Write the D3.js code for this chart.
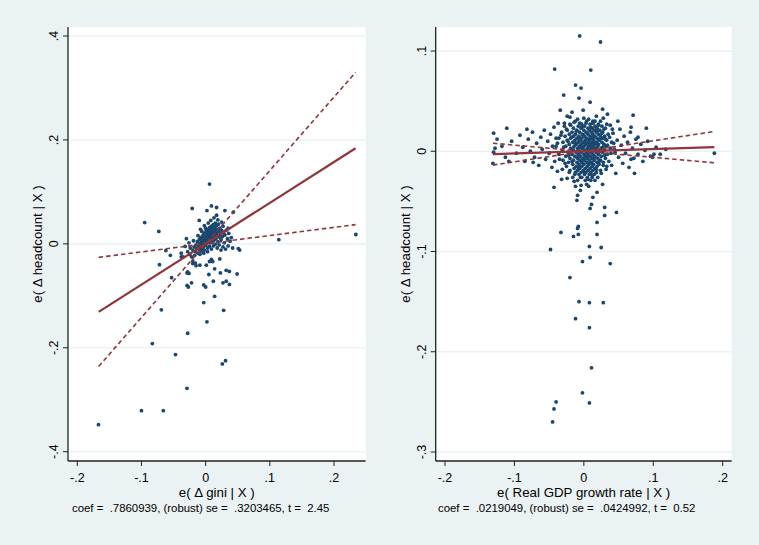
<!DOCTYPE html>
<html>
<head>
<meta charset="utf-8">
<script src="https://cdnjs.cloudflare.com/ajax/libs/d3/7.8.5/d3.min.js"></script>
<style>
  body { margin: 0; background: #eaf2f3; }
  text { font-family: "Liberation Sans", Arial, sans-serif; fill: #000; }
</style>
</head>
<body>
<div id="main"></div>
<script>
// ---- data ----
var tickLabelsX = ["-.2", "-.1", "0", ".1", ".2"];
var ticksX = [-0.2, -0.1, 0, 0.1, 0.2];

var giniTicksY = [-0.4, -0.2, 0, 0.2, 0.4];
var giniLabelsY = ["-.4", "-.2", "0", ".2", ".4"];
var gdpTicksY = [-0.3, -0.2, -0.1, 0, 0.1];
var gdpLabelsY = ["-.3", "-.2", "-.1", "0", ".1"];

// partial residuals, left panel (gini)
var giniPoints = [
  [0.006,0.115],[-0.021,0.068],[0.009,0.073],[0.017,0.070],[0.002,0.064],[0.030,0.064],[-0.095,0.041],[-0.073,0.024],
  [-0.010,0.045],[0.114,0.008],[0.234,0.018],[0.043,0.061],[0.017,0.055],[0.035,0.030],[0.051,-0.009],[0.053,-0.012],
  [-0.062,-0.013],[-0.055,-0.022],[-0.072,-0.040],[-0.053,-0.065],[-0.038,-0.018],[-0.029,-0.056],[-0.026,-0.057],
  [-0.022,-0.075],[-0.029,-0.080],[-0.027,-0.083],[-0.003,-0.079],[0.000,-0.083],[0.005,-0.059],[0.012,-0.072],
  [0.023,-0.056],[0.037,-0.053],[0.049,-0.058],[0.027,-0.075],[0.032,-0.072],[0.037,-0.078],[0.014,-0.101],
  [-0.003,-0.113],[-0.069,-0.127],[0.028,-0.128],[0.002,-0.150],[-0.028,-0.172],[-0.083,-0.192],[-0.047,-0.213],
  [0.031,-0.225],[0.026,-0.231],[-0.029,-0.278],[-0.100,-0.321],[-0.066,-0.321],[-0.167,-0.348],
  [-0.020,-0.038],[-0.016,-0.037],[-0.009,-0.041],[0.001,-0.041],[0.006,-0.034],[0.011,-0.034],[0.009,-0.030],
  [0.014,-0.048],[0.022,-0.029],[0.032,-0.051],[-0.020,-0.033],[-0.015,-0.042],[-0.038,-0.025],[-0.028,-0.054],
  // dense core
  [-0.020,-0.012],[-0.018,-0.006],[-0.016,-0.015],[-0.015,-0.002],[-0.014,-0.009],[-0.013,0.004],[-0.012,-0.018],
  [-0.011,-0.004],[-0.010,0.008],[-0.010,-0.011],[-0.009,0.001],[-0.008,-0.007],[-0.008,0.012],[-0.007,-0.014],
  [-0.006,0.005],[-0.006,-0.002],[-0.005,0.015],[-0.005,-0.009],[-0.004,0.009],[-0.004,0.002],[-0.003,-0.005],
  [-0.003,0.018],[-0.002,0.011],[-0.002,-0.012],[-0.001,0.004],[-0.001,0.021],[0.000,0.007],[0.000,-0.003],
  [0.001,0.014],[0.001,0.025],[0.002,0.001],[0.002,0.010],[0.003,0.019],[0.003,-0.008],[0.004,0.028],[0.004,0.005],
  [0.005,0.015],[0.005,0.022],[0.006,0.011],[0.006,0.031],[0.007,0.002],[0.007,0.018],[0.008,0.026],[0.008,0.008],
  [0.009,0.034],[0.009,0.014],[0.010,0.021],[0.010,0.003],[0.011,0.029],[0.011,0.012],[0.012,0.037],[0.012,0.019],
  [0.013,0.024],[0.013,0.007],[0.014,0.032],[0.014,0.015],[0.015,0.040],[0.015,0.027],[0.016,0.010],[0.016,0.021],
  [0.017,0.035],[0.018,0.017],[0.018,0.028],[0.019,0.004],[0.020,0.024],[0.020,0.038],[0.021,0.013],[0.022,0.030],
  [0.023,0.019],[0.024,0.008],[0.025,0.026],[0.026,0.014],[0.027,0.034],[0.028,0.021],[0.029,0.002],[0.030,0.017],
  [0.032,0.026],[0.034,0.010],[0.036,0.020],[0.038,0.005],[-0.025,-0.020],[-0.022,-0.025],[-0.024,-0.008],
  [-0.028,-0.015],[-0.019,0.006],[-0.017,-0.022],[-0.012,0.016],[-0.009,-0.020],[-0.006,0.024],[-0.003,-0.018],
  [0.000,0.030],[0.003,-0.015],[0.006,-0.005],[0.009,-0.010],[0.012,-0.004],[0.015,-0.001],[0.018,-0.008],
  [0.021,-0.002],[0.024,-0.012],[0.027,-0.006],[0.031,-0.010],[0.035,-0.004],[0.040,0.012],[0.042,-0.008],
  [-0.032,-0.005],[-0.035,-0.025],[-0.030,0.010],[-0.026,0.002],[0.004,0.040],[-0.002,0.035],[0.008,0.045],
  [0.019,0.046],[0.025,0.042],[-0.008,0.028],[0.013,0.050]
];

// partial residuals, right panel (GDP growth)
var gdpPoints = [
  [-0.006,0.115],[0.024,0.109],[-0.042,0.082],[0.010,0.081],[-0.012,0.066],[-0.004,0.063],[-0.029,0.056],
  [-0.007,0.053],[0.009,0.049],[-0.034,0.041],[-0.001,0.041],[0.027,0.042],[0.034,0.037],[0.071,0.036],
  [-0.024,0.035],[-0.017,0.039],[0.049,0.030],[0.090,0.023],[-0.111,0.023],[-0.130,0.018],[-0.082,0.022],
  [0.068,0.024],[0.078,0.014],[-0.128,0.003],[-0.130,-0.001],[-0.131,-0.012],[-0.108,-0.010],[-0.073,-0.011],
  [0.188,-0.002],[0.101,-0.003],[0.099,-0.006],[0.068,-0.008],[0.073,-0.022],[-0.032,-0.028],[-0.043,-0.036],
  [-0.012,-0.035],[-0.004,-0.034],[0.007,-0.035],[0.027,-0.033],[-0.005,-0.039],[-0.009,-0.044],[0.019,-0.041],
  [0.013,-0.046],[-0.010,-0.049],[0.011,-0.053],[0.009,-0.057],[0.030,-0.056],[0.047,-0.061],[0.030,-0.064],
  [0.019,-0.071],[-0.008,-0.075],[-0.009,-0.077],[-0.033,-0.081],[-0.008,-0.083],[-0.015,-0.085],[0.019,-0.083],
  [-0.048,-0.098],[0.008,-0.095],[0.025,-0.096],[0.009,-0.106],[-0.002,-0.110],[0.038,-0.112],[-0.020,-0.126],
  [-0.007,-0.150],[0.008,-0.151],[0.028,-0.151],[-0.012,-0.167],[0.008,-0.176],[0.011,-0.216],[-0.002,-0.241],
  [0.008,-0.251],[-0.040,-0.250],[-0.043,-0.257],[-0.045,-0.270],
  // dense core
  [-0.012,0.030],[0.004,0.030],[0.013,0.030],
  [-0.020,0.027],[-0.003,0.027],[0.009,0.027],[0.021,0.027],
  [-0.028,0.025],[-0.008,0.025],[0.001,0.025],[0.016,0.025],[0.026,0.025],
  [-0.015,0.023],[-0.004,0.023],[0.006,0.023],[0.012,0.023],[0.019,0.023],[0.031,0.023],
  [-0.024,0.021],[-0.010,0.021],[0.000,0.021],[0.008,0.021],[0.015,0.021],[0.023,0.021],
  [-0.032,0.019],[-0.017,0.019],[-0.006,0.019],[0.003,0.019],[0.011,0.019],[0.018,0.019],[0.027,0.019],
  [-0.021,0.017],[-0.012,0.017],[-0.002,0.017],[0.006,0.017],[0.013,0.017],[0.021,0.017],[0.035,0.017],
  [-0.027,0.015],[-0.015,0.015],[-0.007,0.015],[0.001,0.015],[0.009,0.015],[0.016,0.015],[0.024,0.015],[0.030,0.015],
  [-0.036,0.013],[-0.019,0.013],[-0.010,0.013],[-0.003,0.013],[0.004,0.013],[0.011,0.013],[0.019,0.013],[0.027,0.013],
  [-0.024,0.011],[-0.013,0.011],[-0.005,0.011],[0.002,0.011],[0.008,0.011],[0.014,0.011],[0.022,0.011],[0.033,0.011],
  [-0.030,0.009],[-0.016,0.009],[-0.008,0.009],[-0.001,0.009],[0.006,0.009],[0.012,0.009],[0.018,0.009],[0.026,0.009],[0.040,0.009],
  [-0.021,0.007],[-0.011,0.007],[-0.004,0.007],[0.003,0.007],[0.009,0.007],[0.015,0.007],[0.021,0.007],[0.029,0.007],
  [-0.040,0.005],[-0.026,0.005],[-0.014,0.005],[-0.006,0.005],[0.000,0.005],[0.007,0.005],[0.013,0.005],[0.020,0.005],[0.032,0.005],
  [-0.019,0.003],[-0.009,0.003],[-0.002,0.003],[0.005,0.003],[0.011,0.003],[0.017,0.003],[0.025,0.003],[0.038,0.003],
  [-0.031,0.001],[-0.015,0.001],[-0.007,0.001],[0.001,0.001],[0.008,0.001],[0.014,0.001],[0.022,0.001],[0.030,0.001],
  [-0.023,-0.001],[-0.011,-0.001],[-0.004,-0.001],[0.004,-0.001],[0.010,-0.001],[0.018,-0.001],[0.027,-0.001],[0.045,-0.001],
  [-0.036,-0.003],[-0.017,-0.003],[-0.008,-0.003],[0.000,-0.003],[0.006,-0.003],[0.013,-0.003],[0.021,-0.003],[0.034,-0.003],
  [-0.026,-0.005],[-0.013,-0.005],[-0.005,-0.005],[0.002,-0.005],[0.009,-0.005],[0.016,-0.005],[0.025,-0.005],
  [-0.020,-0.007],[-0.009,-0.007],[-0.001,-0.007],[0.005,-0.007],[0.012,-0.007],[0.020,-0.007],[0.031,-0.007],
  [-0.030,-0.009],[-0.015,-0.009],[-0.006,-0.009],[0.001,-0.009],[0.008,-0.009],[0.015,-0.009],[0.024,-0.009],
  [-0.022,-0.011],[-0.010,-0.011],[-0.003,-0.011],[0.004,-0.011],[0.011,-0.011],[0.019,-0.011],[0.028,-0.011],
  [-0.016,-0.013],[-0.007,-0.013],[0.000,-0.013],[0.007,-0.013],[0.014,-0.013],[0.022,-0.013],
  [-0.025,-0.015],[-0.011,-0.015],[-0.003,-0.015],[0.005,-0.015],[0.012,-0.015],[0.019,-0.015],[0.033,-0.015],
  [-0.014,-0.017],[-0.006,-0.017],[0.002,-0.017],[0.009,-0.017],[0.016,-0.017],
  [-0.020,-0.019],[-0.009,-0.019],[-0.001,-0.019],[0.006,-0.019],[0.013,-0.019],[0.024,-0.019],
  [-0.012,-0.021],[-0.004,-0.021],[0.003,-0.021],[0.010,-0.021],[0.018,-0.021],
  [-0.007,-0.023],[0.001,-0.023],[0.008,-0.023],[0.015,-0.023],
  [-0.016,-0.026],[-0.003,-0.026],[0.005,-0.026],[0.012,-0.026],[0.020,-0.026],
  [-0.009,-0.029],[0.002,-0.029],[0.010,-0.029],
  // irregular edge of the core
  [-0.033,0.016],[-0.029,0.004],[-0.027,-0.012],[-0.025,0.022],[-0.023,0.010],[-0.022,-0.004],[-0.021,-0.021],
  [-0.019,0.026],[-0.018,0.014],[-0.017,-0.010],[-0.016,0.002],[-0.014,0.029],[-0.013,-0.023],[-0.012,0.008],
  [-0.011,0.020],[-0.010,-0.006],[-0.009,0.032],[-0.008,-0.016],[-0.007,0.012],[-0.006,0.028],[-0.005,-0.026],
  [-0.004,0.004],[-0.003,0.024],[-0.002,-0.008],[-0.001,0.016],[0.000,0.033],[0.001,-0.021],[0.002,0.008],
  [0.003,0.028],[0.004,-0.004],[0.005,0.018],[0.006,-0.028],[0.007,0.032],[0.008,0.012],[0.009,-0.012],
  [0.010,0.024],[0.011,0.004],[0.012,-0.024],[0.013,0.028],[0.014,0.014],[0.015,-0.006],[0.016,0.030],
  [0.017,0.008],[0.018,-0.018],[0.019,0.020],[0.020,-0.001],[0.021,0.026],[0.022,-0.010],[0.023,0.012],
  [0.024,0.030],[0.025,-0.022],[0.026,0.018],[0.027,0.004],[0.028,-0.014],[0.029,0.022],[0.030,-0.004],
  [0.031,0.012],[0.032,-0.018],[0.033,0.027],[0.034,0.006],[0.036,-0.010],[0.037,0.014],[0.039,-0.002],
  [0.041,0.022],[0.043,0.008],[-0.035,-0.008],[-0.038,0.008],[-0.031,-0.018],[-0.028,0.028],[-0.020,0.034],
  [0.018,0.035],[0.028,0.033],[-0.014,-0.030],[0.004,-0.033],[0.016,-0.029],[-0.024,-0.027],
  // wider spread around the core
  [-0.125,0.012],[-0.118,0.005],[-0.113,-0.006],[-0.104,0.010],[-0.097,-0.002],[-0.092,0.016],[-0.088,0.004],
  [-0.085,-0.010],[-0.080,0.012],[-0.077,0.000],[-0.074,0.019],[-0.071,-0.006],[-0.068,0.008],[-0.065,-0.014],
  [-0.062,0.014],[-0.060,0.002],[-0.057,0.021],[-0.055,-0.008],[-0.052,0.010],[-0.050,-0.002],[-0.048,0.017],
  [-0.046,-0.016],[-0.045,0.005],[-0.043,0.024],[-0.042,-0.010],[-0.040,0.013],[-0.038,-0.020],[-0.037,0.028],
  [0.038,0.026],[0.040,-0.014],[0.042,0.018],[0.044,0.002],[0.046,-0.022],[0.048,0.011],[0.050,-0.006],
  [0.052,0.022],[0.054,0.006],[0.056,-0.012],[0.058,0.015],[0.060,-0.002],[0.063,0.009],[0.065,-0.016],
  [0.067,0.019],[0.070,0.003],[0.072,-0.007],[0.075,0.012],[0.078,-0.003],[0.082,0.007],[0.085,-0.010],
  [0.088,0.001],[0.092,0.010],[0.096,-0.005],[0.104,0.004],[0.110,-0.003],[0.118,0.002]
];

// fitted line and the two dashed bounds (end points)
var giniFit = [[-0.1667, -0.131], [0.2336, 0.184]];
var giniBoundSteep = [[-0.1667, -0.236], [0.2336, 0.330]];
var giniBoundFlat = [[-0.1667, -0.026], [0.2336, 0.037]];
var gdpFit = [[-0.131, -0.0029], [0.188, 0.0041]];
var gdpBoundSteep = [[-0.131, -0.0138], [0.188, 0.0197]];
var gdpBoundFlat = [[-0.131, 0.008], [0.188, -0.0115]];

var w = 759;
var h = 545;
var navy = "#1a476f";
var maroon = "#90353b";

var svg = d3.select("#main")
  .append("svg")
  .attr("width", w)
  .attr("height", h)
  .style("display", "block");

svg.append("rect")
  .attr("width", w)
  .attr("height", h)
  .attr("fill", "#eaf2f3");

function drawPanel(p) {
  var x = d3.scaleLinear().domain([-0.2, 0.2]).range(p.xRange);
  var y = d3.scaleLinear().domain(p.yDomain).range(p.yRange);

  // white plot region
  svg.append("rect")
    .attr("x", p.left)
    .attr("y", p.top)
    .attr("width", p.right - p.left)
    .attr("height", p.bottom - p.top)
    .attr("fill", "#fff");

  // grid lines
  svg.selectAll(null)
    .data(p.yTicks)
    .enter()
    .append("line")
    .attr("x1", p.left)
    .attr("x2", p.right)
    .attr("y1", function(d) { return y(d); })
    .attr("y2", function(d) { return y(d); })
    .attr("stroke", "#eaf2f3")
    .attr("stroke-width", 1.6);

  // points
  svg.append("g")
    .selectAll("circle")
    .data(p.points)
    .enter()
    .append("circle")
    .attr("cx", function(d) { return x(d[0]); })
    .attr("cy", function(d) { return y(d[1]); })
    .attr("r", 1.9)
    .attr("fill", navy);

  var line = d3.line()
    .x(function(d) { return x(d[0]); })
    .y(function(d) { return y(d[1]); });

  [p.boundSteep, p.boundFlat].forEach(function(b) {
    svg.append("path")
      .attr("d", line(b))
      .attr("fill", "none")
      .attr("stroke", maroon)
      .attr("stroke-width", 1.6)
      .attr("stroke-dasharray", "4.5,3");
  });
  svg.append("path")
    .attr("d", line(p.fit))
    .attr("fill", "none")
    .attr("stroke", maroon)
    .attr("stroke-width", 2.2);

  // axes
  svg.append("line")
    .attr("x1", p.left).attr("x2", p.left)
    .attr("y1", p.top).attr("y2", p.bottom)
    .attr("stroke", "#222").attr("stroke-width", 1.3);
  svg.append("line")
    .attr("x1", p.left).attr("x2", p.right)
    .attr("y1", p.bottom).attr("y2", p.bottom)
    .attr("stroke", "#222").attr("stroke-width", 1.3);

  svg.selectAll(null)
    .data(p.yTicks)
    .enter()
    .append("line")
    .attr("x1", p.left - 5).attr("x2", p.left)
    .attr("y1", function(d) { return y(d); })
    .attr("y2", function(d) { return y(d); })
    .attr("stroke", "#222");
  svg.selectAll(null)
    .data(ticksX)
    .enter()
    .append("line")
    .attr("x1", function(d) { return x(d); })
    .attr("x2", function(d) { return x(d); })
    .attr("y1", p.bottom).attr("y2", p.bottom + 5)
    .attr("stroke", "#222");

  // tick labels
  svg.selectAll(null)
    .data(p.yTicks)
    .enter()
    .append("text")
    .attr("transform", function(d) { return "translate(" + (p.left - 10) + "," + y(d) + ") rotate(-90)"; })
    .attr("text-anchor", "middle")
    .attr("font-size", 12.5)
    .text(function(d, i) { return p.yLabels[i]; });
  svg.selectAll(null)
    .data(ticksX)
    .enter()
    .append("text")
    .attr("x", function(d) { return x(d); })
    .attr("y", p.bottom + 21)
    .attr("text-anchor", "middle")
    .attr("font-size", 12.5)
    .text(function(d, i) { return tickLabelsX[i]; });

  // titles
  svg.append("text")
    .attr("transform", "translate(" + (p.left - 26) + "," + ((p.top + p.bottom) / 2) + ") rotate(-90)")
    .attr("text-anchor", "middle")
    .attr("font-size", 13.3)
    .text("e( \u0394 headcount | X )");
  svg.append("text")
    .attr("x", (p.left + p.right) / 2)
    .attr("y", p.bottom + 36)
    .attr("text-anchor", "middle")
    .attr("font-size", 13.3)
    .text(p.xTitle);
  svg.append("text")
    .attr("x", p.noteX)
    .attr("y", p.bottom + 51)
    .attr("font-size", 11.4)
    .attr("xml:space", "preserve")
    .style("white-space", "pre")
    .text(p.note);
}

drawPanel({
  left: 68, right: 365.6, top: 27, bottom: 461,
  xRange: [77.3, 334], yDomain: [-0.4, 0.4], yRange: [451.7, 36],
  yTicks: giniTicksY, yLabels: giniLabelsY,
  points: giniPoints, fit: giniFit, boundSteep: giniBoundSteep, boundFlat: giniBoundFlat,
  xTitle: "e( \u0394 gini | X )",
  noteX: 72,
  note: "coef =  .7860939, (robust) se =  .3203465, t =  2.45"
});

drawPanel({
  left: 435.7, right: 731.7, top: 27, bottom: 461,
  xRange: [445, 722.7], yDomain: [-0.3, 0.1], yRange: [452, 51],
  yTicks: gdpTicksY, yLabels: gdpLabelsY,
  points: gdpPoints, fit: gdpFit, boundSteep: gdpBoundSteep, boundFlat: gdpBoundFlat,
  xTitle: "e( Real GDP growth rate | X )",
  noteX: 438,
  note: "coef =  .0219049, (robust) se =  .0424992, t =  0.52"
});
</script>
</body>
</html>
